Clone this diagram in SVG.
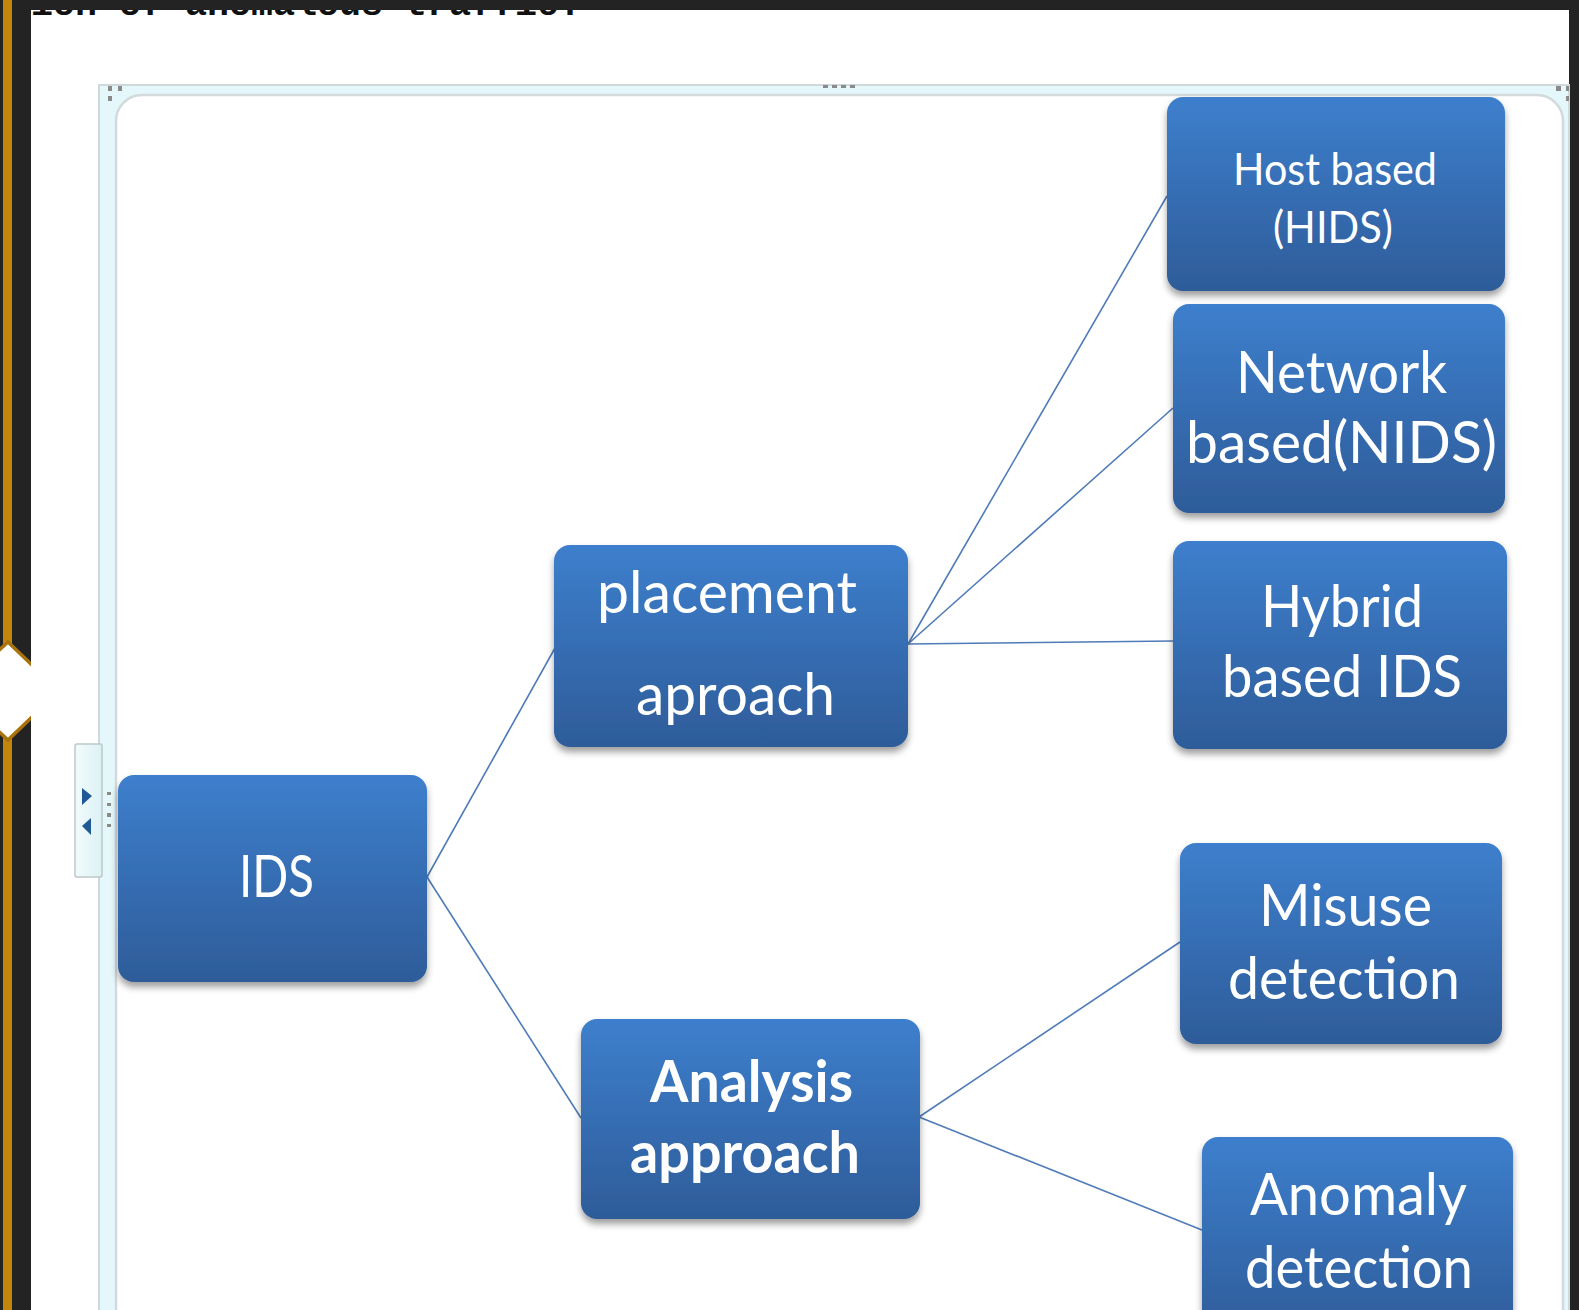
<svg xmlns="http://www.w3.org/2000/svg" width="1579" height="1310" viewBox="0 0 1579 1310">
  <defs>
    <linearGradient id="boxFill" x1="0" y1="0" x2="0" y2="1">
      <stop offset="0" stop-color="#3d7fcd"/>
      <stop offset="1" stop-color="#2e5c99"/>
    </linearGradient>
    <linearGradient id="tabFill" x1="0" y1="0" x2="1" y2="0">
      <stop offset="0" stop-color="#f2fbfc"/>
      <stop offset="1" stop-color="#dcf1f5"/>
    </linearGradient>
    <filter id="shadow" x="-10%" y="-10%" width="120%" height="130%">
      <feDropShadow dx="0" dy="5" stdDeviation="3.5" flood-color="#000" flood-opacity="0.38"/>
    </filter>
    <style>
      .box { fill: url(#boxFill); filter: url(#shadow); }
      .lbl { font-family: Lato, "Open Sans", "Liberation Sans", sans-serif; fill: #ffffff; font-size: 58px; }
      .bold { font-weight: bold; }
      .small { font-size: 44px; }
      .edge { stroke: #4f7bb8; stroke-width: 1.6; fill: none; }
      .grip { fill: #8a8a8a; }
    </style>
  </defs>

  <!-- window chrome -->
  <rect x="0" y="0" width="1579" height="1310" fill="#232323"/>
  <rect x="31" y="10" width="1538" height="1300" fill="#ffffff"/>
  <text x="31" y="15" font-family="'Liberation Mono', 'Courier New', monospace" font-weight="bold" font-size="37" textLength="550" lengthAdjust="spacingAndGlyphs" fill="#111">ion of anomalous traffic.</text>
  <rect x="0" y="0" width="1579" height="10" fill="#232323"/>
  <rect x="0" y="0" width="31" height="1310" fill="#232323"/>
  <rect x="1569" y="0" width="10" height="1310" fill="#232323"/>

  <!-- left rail with diamond -->
  <rect x="3" y="0" width="9" height="1310" fill="#c4850c"/>
  <polygon points="8,642 33,666 33,716 8,740 -18,716 -18,666" fill="#ffffff" stroke="#a8720d" stroke-width="3.5"/>
  <rect x="31" y="650" width="4" height="84" fill="#ffffff"/>

  <!-- diagram frame -->
  <rect x="99" y="85" width="1470" height="1240" fill="#e4f7fa" stroke="#cfd8da" stroke-width="2"/>
  <rect x="116" y="95" width="1447" height="1240" rx="26" ry="26" fill="#ffffff" stroke="#d3dadb" stroke-width="2.5"/>

  <!-- frame grips -->
  <rect class="grip" x="108" y="86" width="4" height="5"/>
  <rect class="grip" x="118" y="86" width="4" height="5"/>
  <rect class="grip" x="108" y="96" width="4" height="5"/>
  <rect class="grip" x="1556" y="86" width="5" height="5"/>
  <rect class="grip" x="1566" y="86" width="3" height="5"/>
  <rect class="grip" x="1566" y="96" width="3" height="5"/>
  <rect class="grip" x="823" y="85" width="5" height="3"/>
  <rect class="grip" x="832" y="85" width="5" height="3"/>
  <rect class="grip" x="841" y="85" width="5" height="3"/>
  <rect class="grip" x="850" y="85" width="5" height="3"/>
  <rect class="grip" x="107" y="792" width="4" height="3"/>
  <rect class="grip" x="107" y="803" width="4" height="3"/>
  <rect class="grip" x="107" y="813" width="4" height="4"/>
  <rect class="grip" x="107" y="824" width="4" height="3"/>

  <!-- text pane tab -->
  <rect x="75" y="744" width="27" height="133" rx="2" fill="url(#tabFill)" stroke="#bfc7c9" stroke-width="1.5"/>
  <polygon points="82,788 92,796 82,805" fill="#1f5a96"/>
  <polygon points="91,818 82,826 91,835" fill="#1f5a96"/>

  <!-- connectors -->
  <g id="connectors">
    <line class="edge" x1="427" y1="877" x2="555" y2="648"/>
    <line class="edge" x1="427" y1="877" x2="581" y2="1118"/>
    <line class="edge" x1="908" y1="644" x2="1167" y2="196"/>
    <line class="edge" x1="908" y1="644" x2="1173" y2="408"/>
    <line class="edge" x1="908" y1="644" x2="1173" y2="641"/>
    <line class="edge" x1="919" y1="1117" x2="1180" y2="942"/>
    <line class="edge" x1="919" y1="1117" x2="1202" y2="1230"/>
  </g>

  <!-- nodes -->
  <g id="node-ids">
    <rect class="box" x="118" y="775" width="309" height="207" rx="16"/>
    <text class="lbl" x="239" y="897" textLength="75" lengthAdjust="spacingAndGlyphs">IDS</text>
  </g>

  <g id="node-placement">
    <rect class="box" x="554" y="545" width="354" height="202" rx="16"/>
    <text class="lbl" x="597" y="613" textLength="260" lengthAdjust="spacingAndGlyphs">placement</text>
    <text class="lbl" x="636" y="715" textLength="199" lengthAdjust="spacingAndGlyphs">aproach</text>
  </g>

  <g id="node-analysis">
    <rect class="box" x="581" y="1019" width="339" height="200" rx="16"/>
    <text class="lbl bold" x="650" y="1102" textLength="203" lengthAdjust="spacingAndGlyphs">Analysis</text>
    <text class="lbl bold" x="630" y="1173" textLength="230" lengthAdjust="spacingAndGlyphs">approach</text>
  </g>

  <g id="node-hids">
    <rect class="box" x="1167" y="97" width="338" height="194" rx="16"/>
    <text class="lbl small" x="1233" y="185" textLength="204" lengthAdjust="spacingAndGlyphs">Host based</text>
    <text class="lbl small" x="1273" y="243" textLength="120" lengthAdjust="spacingAndGlyphs">(HIDS)</text>
  </g>

  <g id="node-nids">
    <rect class="box" x="1173" y="304" width="332" height="209" rx="16"/>
    <text class="lbl" x="1236" y="393" textLength="211" lengthAdjust="spacingAndGlyphs">Network</text>
    <text class="lbl" x="1186" y="463" textLength="311" lengthAdjust="spacingAndGlyphs">based(NIDS)</text>
  </g>

  <g id="node-hybrid">
    <rect class="box" x="1173" y="541" width="334" height="208" rx="16"/>
    <text class="lbl" x="1261" y="627" textLength="162" lengthAdjust="spacingAndGlyphs">Hybrid</text>
    <text class="lbl" x="1222" y="697" textLength="240" lengthAdjust="spacingAndGlyphs">based IDS</text>
  </g>

  <g id="node-misuse">
    <rect class="box" x="1180" y="843" width="322" height="201" rx="16"/>
    <text class="lbl" x="1259" y="926" textLength="173" lengthAdjust="spacingAndGlyphs">Misuse</text>
    <text class="lbl" x="1228" y="999" textLength="232" lengthAdjust="spacingAndGlyphs">detection</text>
  </g>

  <g id="node-anomaly">
    <rect class="box" x="1202" y="1137" width="311" height="200" rx="16"/>
    <text class="lbl" x="1250" y="1215" textLength="217" lengthAdjust="spacingAndGlyphs">Anomaly</text>
    <text class="lbl" x="1245" y="1288" textLength="228" lengthAdjust="spacingAndGlyphs">detection</text>
  </g>
</svg>
